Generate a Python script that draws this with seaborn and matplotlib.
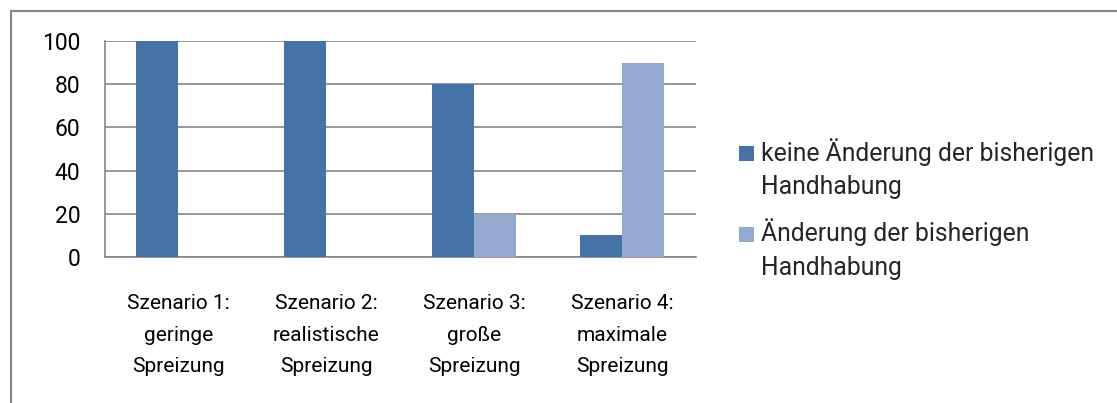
import numpy as np
import pandas as pd
import matplotlib
matplotlib.use("Agg")
import matplotlib.pyplot as plt
import seaborn as sns

# chart data
szenarien = ["Szenario 1:\ngeringe\nSpreizung", "Szenario 2:\nrealistische\nSpreizung",
             "Szenario 3:\ngroße\nSpreizung", "Szenario 4:\nmaximale\nSpreizung"]
keine_aenderung = [100, 100, 80, 10]
aenderung = [0, 0, 20, 90]
serien = ["keine Änderung der bisherigen\nHandhabung", "Änderung der bisherigen\nHandhabung"]
y_ticks = [0, 20, 40, 60, 80, 100]

df = pd.DataFrame({
    "szenario": szenarien * 2,
    "wert": keine_aenderung + aenderung,
    "serie": [serien[0]] * 4 + [serien[1]] * 4,
})

sns.set_style("white")
plt.rcParams["font.family"] = ["Roboto", "DejaVu Sans"]
grau = "#868686"

fig = plt.figure(figsize=(11.17, 4.03), dpi=100)
ax = fig.add_axes([104.5 / 1117, 146 / 403, 591.5 / 1117, 216 / 403])

sns.barplot(data=df, x="szenario", y="wert", hue="serie", order=szenarien, hue_order=serien,
            palette=["#4572A7", "#94A9D0"], width=0.57, gap=0, saturation=1,
            linewidth=0, ax=ax, zorder=3)

ax.set_xlim(-0.5, 3.5)
ax.set_ylim(0, 100)
ax.set_yticks(y_ticks)
ax.yaxis.grid(True, color=grau, linewidth=1.2, zorder=0)
ax.set_axisbelow(True)
for s in ["top", "right"]:
    ax.spines[s].set_visible(False)
for s in ["left", "bottom"]:
    ax.spines[s].set_color(grau)
    ax.spines[s].set_linewidth(1.2)
ax.set_xlabel("")
ax.set_ylabel("")
ax.tick_params(axis="y", length=4.3, color=grau, width=1.2, pad=13, labelsize=16.5, labelcolor="black")
ax.set_xticks(np.arange(-0.5, 4, 1), minor=True)
ax.tick_params(axis="x", which="minor", length=4.3, color=grau, width=1.2)
ax.tick_params(axis="x", which="major", length=0, pad=26.5, labelsize=15, labelcolor="black")
ax.set_xticks(range(len(szenarien)))
ax.set_xticklabels(szenarien, linespacing=1.85)

handles, labels = ax.get_legend_handles_labels()
leg = ax.legend(handles, labels, loc="upper left", bbox_to_anchor=(739 / 1117, 1 - 138 / 403),
                bbox_transform=fig.transFigure, frameon=False, fontsize=17.8,
                handlelength=0.61, handleheight=0.57, handletextpad=0.28, labelspacing=0.77,
                borderpad=0, borderaxespad=0)
for t in leg.get_texts():
    t.set_linespacing(1.5)
# Farbkästchen auf die erste Zeile setzen
for h in leg.legend_handles:
    h.set_y(h.get_y() + 11.2)

# outer chart border
fig.add_artist(plt.Line2D([10.5 / 1117, 10.5 / 1117], [0, 1 - 10.5 / 403], color=grau, linewidth=1.5))
fig.add_artist(plt.Line2D([10.5 / 1117, 1], [1 - 10.5 / 403, 1 - 10.5 / 403], color=grau, linewidth=1.5))

fig.savefig("out.png", dpi=100)
